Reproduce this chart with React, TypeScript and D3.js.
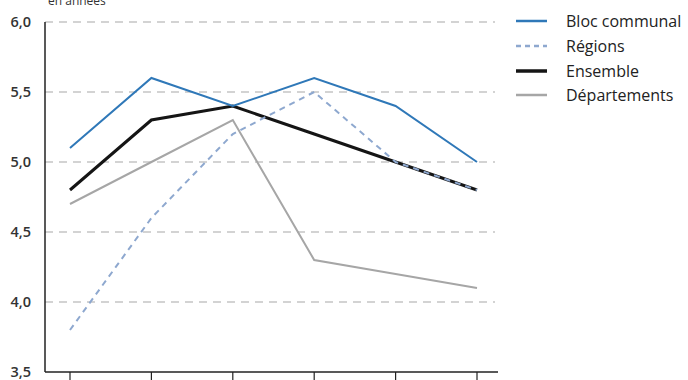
import React from "react";
import * as d3 from "d3";

const categories = ["2010", "2011", "2012", "2013", "2014", "2015"];
const blocCommunal = [5.1, 5.6, 5.4, 5.6, 5.4, 5.0];
const regions = [3.8, 4.6, 5.2, 5.5, 5.0, 4.8];
const ensemble = [4.8, 5.3, 5.4, 5.2, 5.0, 4.8];
const departements = [4.7, 5.0, 5.3, 4.3, 4.2, 4.1];
const yTicks = [3.5, 4.0, 4.5, 5.0, 5.5, 6.0];
const unitLabel = "en années";

const series = [
  { name: "Bloc communal", values: blocCommunal, color: "#2f78b8", width: 2, dash: "" },
  { name: "Régions", values: regions, color: "#8ea8cf", width: 2, dash: "6,5" },
  { name: "Ensemble", values: ensemble, color: "#151515", width: 3, dash: "" },
  { name: "Départements", values: departements, color: "#a6a6a6", width: 2, dash: "" },
];
const drawOrder = [3, 2, 1, 0];

export default function App() {
  const W = 688, H = 380;
  const x = d3.scalePoint<string>().domain(categories).range([70, 477]);
  const y = d3.scaleLinear().domain([3.5, 6]).range([372, 22]);
  const axisLeft = 45, axisRight = 498, gridRight = 495;
  const line = (vals: number[]) =>
    d3.line<number>().x((_, i) => x(categories[i])!).y((d) => y(d))(vals) || "";
  const fmt = (v: number) => v.toFixed(1).replace(".", ",");
  const font = "'Open Sans', 'DejaVu Sans', sans-serif";
  const legendY = [21, 46, 71, 95];

  return (
    <div style={{ position: "absolute", left: 0, top: 0 }}>
      <svg width={W} height={H} style={{ display: "block", background: "#fff" }} fontFamily={font}>
        <text x={48} y={5} fontSize={12} fill="#333">{unitLabel}</text>
        {yTicks.filter((t) => t > 3.5).map((t) => (
          <line key={"g" + t} x1={axisLeft} x2={gridRight} y1={y(t)} y2={y(t)}
            stroke="#a8a8a8" strokeWidth={1.2} strokeDasharray="8,6" />
        ))}
        {yTicks.map((t) => (
          <text key={"t" + t} x={31} y={y(t) + 5} textAnchor="end" fontSize={14.5}
            fontWeight={600} fill="#333">{fmt(t)}</text>
        ))}
        <line x1={axisLeft} x2={axisLeft} y1={y(6)} y2={y(3.5)} stroke="#222" strokeWidth={1.5} />
        <line x1={axisLeft} x2={axisRight} y1={y(3.5)} y2={y(3.5)} stroke="#222" strokeWidth={1.5} />
        {categories.map((c) => (
          <line key={c} x1={x(c)} x2={x(c)} y1={y(3.5)} y2={y(3.5) + 10} stroke="#222" strokeWidth={1.2} />
        ))}
        {drawOrder.map((i) => {
          const s = series[i];
          return (
            <path key={s.name} d={line(s.values)} fill="none" stroke={s.color}
              strokeWidth={s.width} strokeDasharray={s.dash || undefined} strokeLinejoin="miter" />
          );
        })}
        {series.map((s, i) => (
          <g key={"l" + s.name}>
            <line x1={516} x2={547} y1={legendY[i]} y2={legendY[i]} stroke={s.color}
              strokeWidth={s.width + 0.5} strokeDasharray={s.dash ? "5,4" : undefined} />
            <text x={566} y={legendY[i] + 5.5} fontSize={16} fill="#222">{s.name}</text>
          </g>
        ))}
      </svg>
    </div>
  );
}
